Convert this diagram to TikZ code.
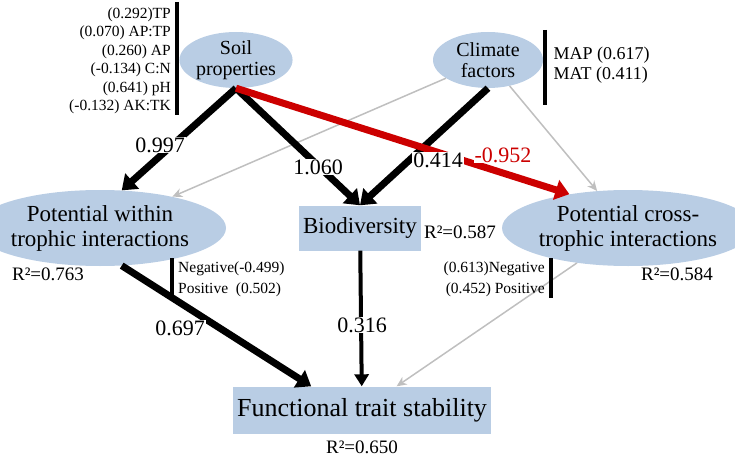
\documentclass[tikz,border=0pt]{standalone}
\usepackage{fontspec}
\setmainfont{Liberation Serif}
\usetikzlibrary{arrows.meta,shapes.geometric}
\definecolor{paleblue}{RGB}{185,205,228}
\begin{document}
\begin{tikzpicture}[x=1pt,y=-1pt,
  factor/.style={ellipse,fill=paleblue,inner sep=0pt},
  target/.style={fill=paleblue,inner sep=4pt},
  strong/.style={line width=7pt,-{Triangle[length=14pt,width=20pt]}},
  weak/.style={line width=1.5pt,gray!50,-{Stealth[length=10pt,width=9pt]}},
  coef/.style={font=\fontsize{22}{24}\selectfont,fill=white,inner sep=1pt},
  small/.style={font=\fontsize{15.5}{17}\selectfont},
  big/.style={font=\fontsize{23}{25}\selectfont}]
  \useasboundingbox (0,0) rectangle (735,457);
  % Nodes
  \node[factor,minimum width=110pt,minimum height=56pt,align=center,font=\fontsize{20}{21}\selectfont] (soil) at (236,60) {Soil\\properties};
  \node[factor,minimum width=110pt,minimum height=56pt,align=center,font=\fontsize{20}{21}\selectfont] (clim) at (488,60) {Climate\\factors};
  \node[factor,minimum width=200pt,minimum height=76pt,align=center,big] (within) at (100,228) {Potential within\\trophic interactions};
  \node[target,minimum width=110pt,minimum height=45pt,big] (bio) at (360,228) {Biodiversity};
  \node[factor,minimum width=200pt,minimum height=76pt,align=center,big] (cross) at (628,228) {Potential cross-\\trophic interactions};
  \node[target,minimum width=245pt,minimum height=47pt,font=\fontsize{26}{28}\selectfont] (func) at (362,410) {Functional trait stability};
  % Paths
  \draw[weak] (clim) -- (within);
  \draw[weak] (clim) -- (cross);
  \draw[weak] (cross) -- (func);
  \draw[strong] (soil.south) -- (within.60);
  \draw[strong] (soil.south) -- (bio.north);
  \draw[strong] (clim.south) -- (bio.north);
  \draw[strong,red!80!black,-{Triangle[length=14pt,width=20pt]}] (soil.south) -- (cross.150);
  \draw[strong] (within.-60) -- (func.155);
  \draw[line width=4pt,-{Triangle[length=12pt,width=14pt]}] (bio) -- (func);
  % Coefficients
  \node[coef] (c1) at (160,145) {0.997};
  \node[coef] (c2) at (318,167) {1.060};
  \node[coef] (c3) at (438,160) {0.414};
  \node[coef,text=red!80!black] (c4) at (503,155) {-0.952};
  \node[coef] (c5) at (180,328) {0.697};
  \node[coef] (c6) at (362,325) {0.316};
  % R squared
  \node[font=\fontsize{19}{21}\selectfont] (r1) at (460,232) {R²=0.587};
  \node[font=\fontsize{19}{21}\selectfont] (r2) at (48,274) {R²=0.763};
  \node[font=\fontsize{19}{21}\selectfont] (r3) at (677,274) {R²=0.584};
  \node[font=\fontsize{19}{21}\selectfont] (r4) at (362,447) {R²=0.650};
  % Side lists
  \draw[line width=4pt] (177,2) -- (177,115);
  \foreach \t [count=\i] in {(0.292)TP,(0.070) AP:TP,(0.260) AP,(-0.134) C:N,(0.641) pH,(-0.132) AK:TK}
    \node[small,anchor=east,inner sep=1pt] at (172,-4+18.5*\i) {\t};
  \draw[line width=4pt] (545,30) -- (545,105);
  \node[anchor=west,font=\fontsize{18}{20}\selectfont] (map) at (550,55) {MAP~(0.617)};
  \node[anchor=west,font=\fontsize{18}{20}\selectfont] (mat) at (550,75) {MAT~(0.411)};
  \draw[line width=4pt] (172,258) -- (172,300);
  \node[small,anchor=west,inner sep=2pt] (neg1) at (176,269) {Negative(-0.499)};
  \node[small,anchor=west,inner sep=2pt] (pos1) at (176,290) {Positive~ (0.502)};
  \draw[line width=4pt] (551,258) -- (551,298);
  \node[small,anchor=east,inner sep=2pt] (neg2) at (547,269) {(0.613)Negative};
  \node[small,anchor=east,inner sep=2pt] (pos2) at (547,290) {(0.452) Positive};
\end{tikzpicture}
\end{document}
